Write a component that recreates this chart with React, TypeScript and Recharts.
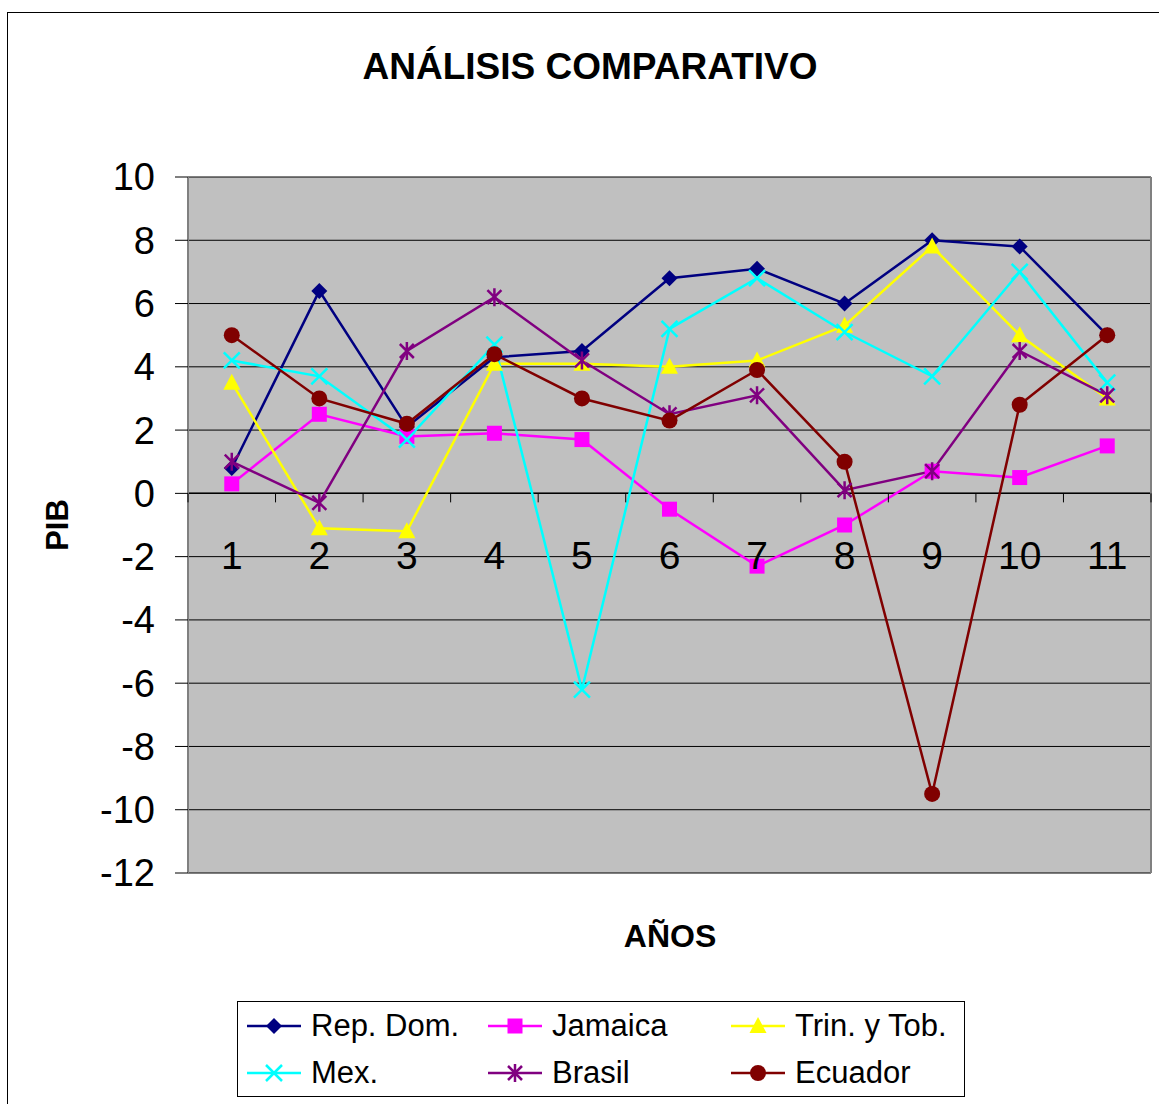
import { CartesianGrid, Line, LineChart, ReferenceLine, XAxis, YAxis } from "recharts";

const years = ["1", "2", "3", "4", "5", "6", "7", "8", "9", "10", "11"];
const repDom = [0.8, 6.4, 2.1, 4.3, 4.5, 6.8, 7.1, 6.0, 8.0, 7.8, 5.0];
const jamaica = [0.3, 2.5, 1.8, 1.9, 1.7, -0.5, -2.3, -1.0, 0.7, 0.5, 1.5];
const trinTob = [3.5, -1.1, -1.2, 4.1, 4.1, 4.0, 4.2, 5.3, 7.8, 5.0, 3.0];
const mex = [4.2, 3.7, 1.7, 4.7, -6.2, 5.2, 6.8, 5.1, 3.7, 7.0, 3.5];
const brasil = [1.0, -0.3, 4.5, 6.2, 4.2, 2.5, 3.1, 0.1, 0.7, 4.5, 3.1];
const ecuador = [5.0, 3.0, 2.2, 4.4, 3.0, 2.3, 3.9, 1.0, -9.5, 2.8, 5.0];
const yTicks = [-12, -10, -8, -6, -4, -2, 0, 2, 4, 6, 8, 10];

const data = years.map((year, i) => ({
  year,
  repDom: repDom[i],
  jamaica: jamaica[i],
  trinTob: trinTob[i],
  mex: mex[i],
  brasil: brasil[i],
  ecuador: ecuador[i],
}));

const FONT = "'Liberation Sans', Arial, sans-serif";
const PLOT_TOP = 177;
const PLOT_H = 696;
const PLOT_LEFT = 188;
const PLOT_W = 963;
const BAND = PLOT_W / years.length;
const ZERO_Y = PLOT_TOP + (PLOT_H * 10) / 22;

function marker(kind, color, cx, cy, key?) {
  switch (kind) {
    case "diamond":
      return <polygon key={key} points={`${cx},${cy - 8} ${cx + 8},${cy} ${cx},${cy + 8} ${cx - 8},${cy}`} fill={color} />;
    case "square":
      return <rect key={key} x={cx - 7.5} y={cy - 7.5} width={15} height={15} fill={color} />;
    case "triangle":
      return <polygon key={key} points={`${cx},${cy - 9} ${cx + 8.5},${cy + 7} ${cx - 8.5},${cy + 7}`} fill={color} />;
    case "x":
      return (
        <path key={key} d={`M${cx - 8},${cy - 8}L${cx + 8},${cy + 8}M${cx - 8},${cy + 8}L${cx + 8},${cy - 8}`} stroke={color} strokeWidth={2.5} />
      );
    case "star":
      return (
        <path
          key={key}
          d={`M${cx - 7},${cy - 7}L${cx + 7},${cy + 7}M${cx - 7},${cy + 7}L${cx + 7},${cy - 7}M${cx},${cy - 9}L${cx},${cy + 9}`}
          stroke={color}
          strokeWidth={2.5}
        />
      );
    default:
      return <circle key={key} cx={cx} cy={cy} r={8} fill={color} />;
  }
}

const series = [
  { key: "repDom", name: "Rep. Dom.", color: "#000080", kind: "diamond" },
  { key: "jamaica", name: "Jamaica", color: "#FF00FF", kind: "square" },
  { key: "trinTob", name: "Trin. y Tob.", color: "#FFFF00", kind: "triangle" },
  { key: "mex", name: "Mex.", color: "#00FFFF", kind: "x" },
  { key: "brasil", name: "Brasil", color: "#800080", kind: "star" },
  { key: "ecuador", name: "Ecuador", color: "#800000", kind: "circle" },
];

function XTick(props) {
  const { x, index } = props;
  const last = index === years.length - 1;
  return (
    <g>
      <line x1={x - BAND / 2} y1={ZERO_Y} x2={x - BAND / 2} y2={ZERO_Y + 9} stroke="#000" />
      {last && <line x1={x + BAND / 2} y1={ZERO_Y} x2={x + BAND / 2} y2={ZERO_Y + 9} stroke="#000" />}
      <text x={x} y={ZERO_Y + 62} textAnchor="middle" dominantBaseline="central" fontSize={39} fontFamily={FONT} fill="#000">
        {props.payload.value}
      </text>
    </g>
  );
}

export default function App() {
  return (
    <div style={{ position: "absolute", left: 0, top: 0, width: 1159, height: 1104, background: "#fff", fontFamily: FONT, overflow: "hidden" }}>
      <div style={{ position: "absolute", left: 7, top: 12, width: 1200, height: 1200, border: "1px solid #000" }} />
      <div style={{ position: "absolute", left: 0, top: 0 }}>
        <LineChart width={1159} height={1104} data={data} margin={{ top: PLOT_TOP, right: 7, left: PLOT_LEFT - 80, bottom: 230 }}>
          <CartesianGrid vertical={false} stroke="#000" fill="#C0C0C0" fillOpacity={1} />
          <ReferenceLine y={0} stroke="#000" strokeWidth={1.5} />
          <XAxis
            dataKey="year"
            height={1}
            axisLine={false}
            tickLine={false}
            tick={XTick}
            interval={0}
            padding={{ left: BAND / 2, right: BAND / 2 }}
          />
          <YAxis
            width={80}
            domain={[-12, 10]}
            ticks={yTicks}
            interval={0}
            tickSize={13}
            tickMargin={20}
            axisLine={{ stroke: "#808080", strokeWidth: 2 }}
            tickLine={{ stroke: "#000" }}
            tick={{ fontSize: 38, fontFamily: FONT, fill: "#000" }}
          />
          <YAxis
            yAxisId="right"
            orientation="right"
            width={1}
            domain={[-12, 10]}
            ticks={yTicks}
            tick={false}
            tickLine={false}
            tickSize={0}
            axisLine={{ stroke: "#808080", strokeWidth: 2 }}
          />
          {series.map((s) => (
            <Line
              key={s.key}
              type="linear"
              dataKey={s.key}
              name={s.name}
              stroke={s.color}
              strokeWidth={2.5}
              isAnimationActive={false}
              dot={(p) => marker(s.kind, s.color, p.cx, p.cy, `${s.key}-${p.index}`)}
              activeDot={false}
            />
          ))}
        </LineChart>
      </div>
      <div style={{ position: "absolute", left: 0, width: 1180, top: 46, textAlign: "center", fontSize: 37, fontWeight: "bold" }}>ANÁLISIS COMPARATIVO</div>
      <div
        style={{
          position: "absolute",
          left: 58,
          top: 525,
          transform: "translate(-50%, -50%) rotate(-90deg)",
          fontSize: 31,
          fontWeight: "bold",
          whiteSpace: "nowrap",
        }}
      >
        PIB
      </div>
      <div style={{ position: "absolute", left: 570, width: 200, top: 918, textAlign: "center", fontSize: 32, fontWeight: "bold" }}>AÑOS</div>
      <div style={{ position: "absolute", left: 237, top: 1001, width: 726, height: 94, border: "1px solid #000", background: "#fff" }}>
        {series.map((s, i) => {
          const col = i % 3;
          const row = Math.floor(i / 3);
          return (
            <div
              key={s.key}
              style={{ position: "absolute", left: [9, 250, 493][col], top: row === 0 ? 4 : 51, height: 40, display: "flex", alignItems: "center", whiteSpace: "nowrap" }}
            >
              <svg width={54} height={20} style={{ marginRight: 10 }}>
                <line x1={0} y1={10} x2={54} y2={10} stroke={s.color} strokeWidth={2.5} />
                {marker(s.kind, s.color, 27, 10)}
              </svg>
              <span style={{ fontSize: 31 }}>{s.name}</span>
            </div>
          );
        })}
      </div>
    </div>
  );
}
